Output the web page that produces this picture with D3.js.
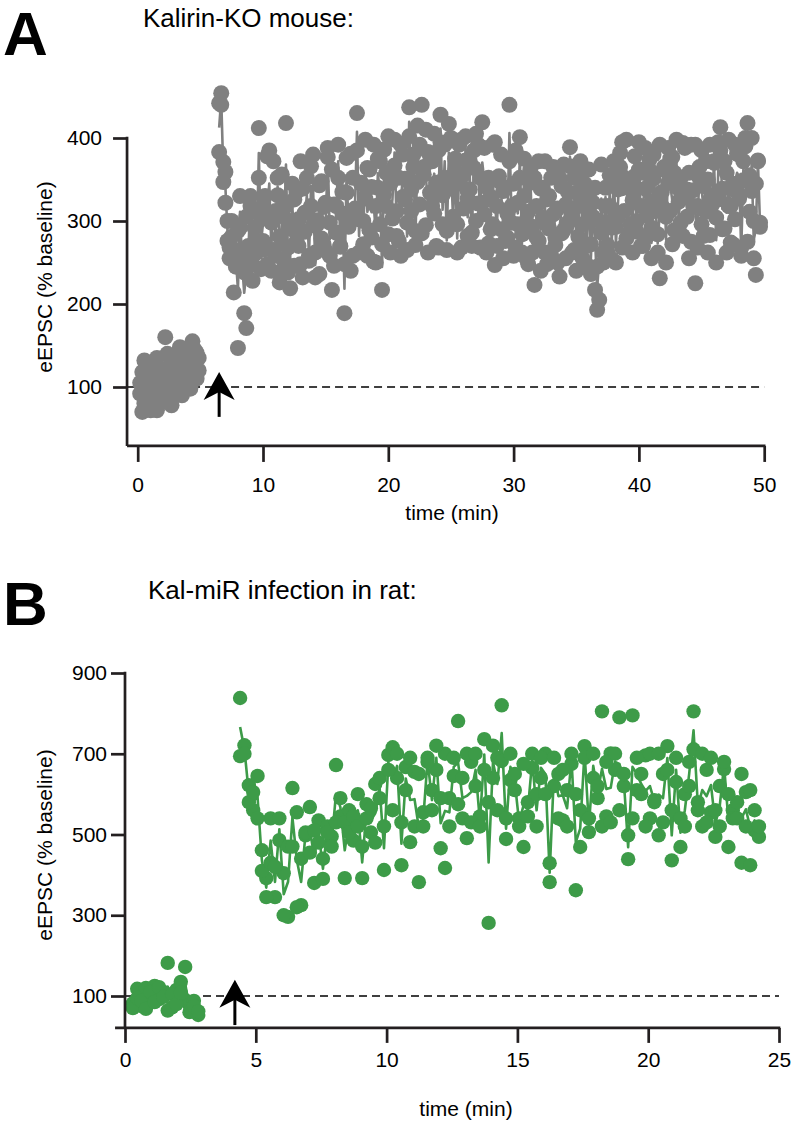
<!DOCTYPE html>
<html><head><meta charset="utf-8">
<script src="https://cdn.jsdelivr.net/npm/d3@7"></script>
<style>
body{margin:0;background:#fff}
svg{display:block}
text{font-family:"Liberation Sans",Arial,Helvetica,sans-serif;fill:#000}
</style>
</head><body>
<svg id="c" width="793" height="1125"></svg>
<script>
// ---------------- DATA ----------------
// Panel A: Kalirin-KO mouse, two recordings sampled every 10 s (1/6 min)
const sampleA = 1/6;
const baselineAStart = 0.2;
const baselineA1 = [
  105, 70, 132, 88, 112, 76, 98, 120, 72, 105, 85, 115, 160, 93, 118,
  78, 128, 102, 110, 135, 90, 142, 117, 125, 98, 155, 130, 141, 120
];
const baselineA2 = [
  92, 118, 80, 126, 100, 72, 110, 88, 135, 96, 122, 82, 104, 140, 90,
  115, 108, 126, 98, 148, 112, 130, 105, 138, 118, 128, 145, 110, 135
];
const postAStart = 6.5;
const postA1 = [
  442, 454, 371, 359, 300, 255,
  281, 214, 265, 147, 292, 243,
  189, 171, 270, 318, 248, 292,
  262, 412, 305, 276, 330, 248,
  385, 298, 265, 312, 352, 281,
  240, 305, 418, 268, 219, 290,
  326, 275, 302, 248, 339, 287,
  311, 258, 366, 295, 232, 301,
  343, 279, 317, 264, 377, 298,
  217, 320, 286, 352, 269, 309,
  189, 334, 293, 381, 258, 315,
  430, 302, 346, 272, 327, 364,
  289, 341, 251, 318, 375, 296,
  217, 332, 358, 284, 345, 303,
  367, 312, 276, 392, 329, 351,
  298, 437, 338, 365, 271, 347,
  320, 440, 356, 295, 383, 334,
  372, 309, 346, 268, 395, 331,
  352, 288, 417, 339, 305, 361,
  262, 346, 398, 315, 373, 327,
  338, 286, 364, 405, 321, 352,
  419, 308, 341, 273, 329, 296,
  247, 318, 354, 290, 336, 276,
  309, 440, 298, 345, 268, 322,
  401, 284, 330, 255, 311, 346,
  293, 223, 318, 276, 339, 304,
  262, 326, 291, 352, 308, 271,
  315, 233, 342, 289, 320, 298,
  389, 306, 265, 334, 281, 357,
  296, 318, 247, 331, 272, 305,
  217, 193, 205, 286, 262, 340,
  271, 318, 254, 348, 293, 305,
  365, 395, 312, 279, 341, 296,
  325, 354, 287, 362, 318, 270,
  339, 306, 374, 292, 351, 321,
  284, 231, 335, 362, 305, 346,
  312, 377, 289, 341, 323, 298,
  394, 330, 305, 358, 275, 337,
  225, 318, 365, 296, 342, 311,
  350, 283, 331, 372, 304, 326,
  413, 339, 291, 358, 318, 274,
  345, 302, 381, 327, 268, 349,
  400, 418, 311, 336, 255, 235,
  373, 293
];
const postA2 = [
  383, 440, 347, 322, 276, 268,
  300, 262, 245, 288, 330, 252,
  238, 305, 262, 330, 228, 312,
  276, 352, 242, 318, 266, 378,
  305, 240, 372, 258, 331, 226,
  356, 252, 318, 238, 292, 345,
  246, 335, 270, 372, 232, 310,
  352, 252, 318, 380, 262, 296,
  236, 348, 272, 322, 388, 258,
  362, 246, 318, 392, 270, 335,
  248, 376, 296, 240, 352, 312,
  385, 262, 345, 300, 398, 258,
  362, 280, 392, 250, 340, 372,
  272, 386, 318, 402, 262, 350,
  398, 282, 352, 258, 380, 326,
  265, 402, 312, 380, 288, 415,
  392, 285, 365, 410, 262, 372,
  318, 405, 270, 385, 428, 296,
  392, 265, 348, 400, 300, 375,
  296, 392, 268, 356, 402, 282,
  372, 270, 385, 300, 392, 268,
  322, 388, 262, 352, 290, 392,
  395, 270, 348, 380, 255, 340,
  280, 372, 318, 258, 385, 296,
  352, 262, 375, 300, 248, 362,
  262, 352, 280, 372, 240, 340,
  372, 248, 330, 258, 365, 280,
  250, 352, 285, 368, 255, 335,
  366, 262, 352, 240, 318, 372,
  255, 345, 270, 362, 236, 322,
  340, 245, 300, 368, 250, 318,
  262, 355, 292, 372, 250, 338,
  382, 268, 352, 398, 285, 345,
  262, 378, 300, 395, 270, 358,
  388, 282, 362, 255, 380, 312,
  262, 392, 318, 365, 250, 388,
  375, 272, 358, 398, 290, 352,
  282, 388, 338, 255, 392, 318,
  392, 268, 352, 385, 282, 372,
  262, 392, 320, 370, 250, 395,
  385, 290, 372, 262, 398, 318,
  272, 392, 335, 380, 258, 372,
  390, 275, 355, 400, 300, 345,
  372, 298
];
const arrowA = {time: 6.5, tip: 118, base: 64};
const baseLineValue = 100;
const xTicksA = [0, 10, 20, 30, 40, 50];
const yTicksA = [100, 200, 300, 400];

// Panel B: Kal-miR infection in rat, two recordings sampled every 10 s
const sampleB = 1/6;
const baselineBStart = 0.3;
const baselineB1 = [82, 118, 75, 120, 102, 125, 92, 110, 182, 72, 115, 135, 90, 78, 88, 53];
const baselineB2 = [70, 95, 88, 68, 110, 85, 122, 98, 64, 105, 80, 108, 172, 60, 75, 62];
const postBStart = 4.4;
const postB1 = [
  694, 721, 622, 560, 645, 461,
  392, 540, 345, 486, 404, 296,
  615, 555, 325, 498, 568, 380,
  535, 390, 520, 495, 672, 545,
  392, 560, 485, 600, 392, 575,
  505, 625, 590, 412, 697, 716,
  640, 424, 667, 481, 655, 382,
  555, 690, 610, 660, 466, 700,
  590, 645, 781, 540, 491, 680,
  620, 545, 736, 281, 640, 690,
  820, 489, 635, 650, 540, 469,
  580, 665, 600, 640, 700, 382,
  620, 650, 535, 610, 675, 362,
  469, 719, 506, 640, 590, 805,
  545, 701, 660, 790, 620, 439,
  795, 610, 650, 696, 540, 585,
  498, 650, 719, 436, 630, 469,
  600, 620, 805, 580, 520, 660,
  555, 494, 620, 662, 469, 560,
  580, 430, 605, 424, 510, 494
];
const postB2 = [
  838, 700, 580, 605, 540, 410,
  345, 430, 420, 540, 300, 470,
  470, 320, 440, 505, 455, 510,
  480, 440, 505, 470, 530, 590,
  530, 505, 545, 520, 470, 540,
  565, 480, 640, 520, 660, 560,
  700, 530, 610, 690, 520, 650,
  520, 680, 560, 720, 590, 417,
  520, 690, 575, 640, 700, 530,
  700, 520, 660, 580, 720, 560,
  682, 540, 700, 610, 520, 675,
  545, 700, 520, 690, 600, 429,
  690, 540, 660, 520, 700, 600,
  560, 690, 540, 700, 620, 520,
  680, 530, 700, 560, 650, 498,
  540, 690, 600, 520, 700, 580,
  700, 530, 660, 560, 690, 540,
  520, 680, 711, 560, 700, 530,
  690, 560, 520, 680, 600, 540,
  540, 650, 520, 610, 560, 520
];
const arrowB = {time: 4.2, tip: 140, base: 28};
const xTicksB = [0, 5, 10, 15, 20, 25];
const yTicksB = [100, 300, 500, 700, 900];

const titleA = "Kalirin-KO mouse:";
const titleB = "Kal-miR infection in rat:";
const yLabel = "eEPSC (% baseline)";
const xLabel = "time (min)";

// ---------------- DRAW ----------------
const svg = d3.select("#c");
const AX = "#231f20";

function block(start, dt, cells) {
  const dots = [];
  cells.forEach(c => c.forEach((v, i) => dots.push({t: start + i * dt, v})));
  const mean = cells[0].map((_, i) => ({t: start + i * dt, v: d3.mean(cells, c => c[i])}));
  return {dots, mean};
}

function panel(cfg) {
  const g = svg.append("g");
  const x = d3.scaleLinear().domain(cfg.xDomain).range(cfg.xRange);
  const y = d3.scaleLinear().domain(cfg.yDomain).range(cfg.yRange);
  const yAxisX = x(cfg.yAxisAt);
  const xAxisY = y(cfg.yFloor);

  g.append("text").attr("x", 3).attr("y", cfg.letterY)
    .style("font-size", "62px").style("font-weight", "bold").text(cfg.letter);
  g.append("text").attr("x", cfg.titleX).attr("y", cfg.titleY)
    .style("font-size", "26px").text(cfg.title);

  g.append("line")
    .attr("x1", yAxisX).attr("x2", x(cfg.xDomain[1]))
    .attr("y1", y(baseLineValue)).attr("y2", y(baseLineValue))
    .attr("stroke", "#000").attr("stroke-width", 1.7)
    .attr("stroke-dasharray", "8,5");

  const line = d3.line().x(d => x(d.t)).y(d => y(d.v));
  cfg.blocks.forEach(b => {
    g.append("path").datum(b.mean).attr("d", line)
      .attr("fill", "none").attr("stroke", cfg.color)
      .attr("stroke-width", 2.6).attr("stroke-linejoin", "round");
  });
  cfg.blocks.forEach(b => {
    g.append("g").selectAll("circle").data(b.dots).join("circle")
      .attr("cx", d => x(d.t)).attr("cy", d => y(d.v))
      .attr("r", cfg.r).attr("fill", cfg.color);
  });

  const ax = x(cfg.arrow.time), ty = y(cfg.arrow.tip), by = y(cfg.arrow.base);
  g.append("line").attr("x1", ax).attr("x2", ax).attr("y1", ty + 18).attr("y2", by)
    .attr("stroke", "#000").attr("stroke-width", 3);
  g.append("path")
    .attr("d", `M${ax},${ty} L${ax + 15.5},${ty + 28} L${ax},${ty + 20} L${ax - 15.5},${ty + 28} Z`)
    .attr("fill", "#000");

  const yAx = d3.axisLeft(y).tickValues(cfg.yTicks).tickSize(14).tickPadding(cfg.yPad).tickSizeOuter(0);
  const yg = g.append("g").attr("transform", `translate(${yAxisX},0)`).call(yAx);
  const xAx = d3.axisBottom(x).tickValues(cfg.xTicks).tickSize(cfg.xTickLen).tickPadding(cfg.xPad).tickSizeOuter(0);
  const xg = g.append("g").attr("transform", `translate(0,${xAxisY})`).call(xAx);
  [yg, xg].forEach(a => {
    a.select(".domain").remove();
    a.selectAll(".tick line").attr("stroke", AX).attr("stroke-width", 2.7);
    a.selectAll(".tick text").style("font-size", "21px")
      .style("font-family", '"Liberation Sans",Arial,sans-serif').attr("fill", "#000");
  });
  g.append("line").attr("x1", yAxisX).attr("x2", yAxisX)
    .attr("y1", y(cfg.yDomain[1]) - 1.3).attr("y2", xAxisY)
    .attr("stroke", AX).attr("stroke-width", 2.7);
  g.append("line").attr("x1", x(cfg.xAxisStart)).attr("x2", x(cfg.xDomain[1]) + 1.3)
    .attr("y1", xAxisY).attr("y2", xAxisY)
    .attr("stroke", AX).attr("stroke-width", 2.7);

  g.append("text").attr("transform", `translate(${cfg.yLabelX},${cfg.yLabelY}) rotate(-90)`)
    .attr("text-anchor", "middle").style("font-size", "21px").text(yLabel);
  g.append("text").attr("x", cfg.xLabelX).attr("y", cfg.xLabelY)
    .attr("text-anchor", "middle").style("font-size", "21px").text(xLabel);
}

panel({
  letter: "A", letterY: 55, title: titleA, titleX: 143, titleY: 27,
  xDomain: [0, 50], xRange: [137.7, 764.2],
  yDomain: [100, 400], yRange: [387, 138], yFloor: 29, yAxisAt: -0.85, xAxisStart: -0.85,
  xTicks: xTicksA, yTicks: yTicksA, yPad: 11, xTickLen: 16, xPad: 15,
  color: "#808080", r: 8,
  blocks: [block(baselineAStart, sampleA, [baselineA1, baselineA2]),
           block(postAStart, sampleA, [postA1, postA2])],
  arrow: arrowA,
  yLabelX: 52, yLabelY: 277, xLabelX: 452, xLabelY: 520
});

panel({
  letter: "B", letterY: 625, title: titleB, titleX: 148, titleY: 599,
  xDomain: [0, 25], xRange: [125, 779],
  yDomain: [100, 900], yRange: [996, 673], yFloor: 21, yAxisAt: 0, xAxisStart: -0.38,
  xTicks: xTicksB, yTicks: yTicksB, yPad: 4, xTickLen: 15, xPad: 9,
  color: "#3d9b48", r: 7.2,
  blocks: [block(baselineBStart, sampleB, [baselineB1, baselineB2]),
           block(postBStart, sampleB, [postB1, postB2])],
  arrow: arrowB,
  yLabelX: 52, yLabelY: 845, xLabelX: 466, xLabelY: 1116
});
</script>
</body></html>
